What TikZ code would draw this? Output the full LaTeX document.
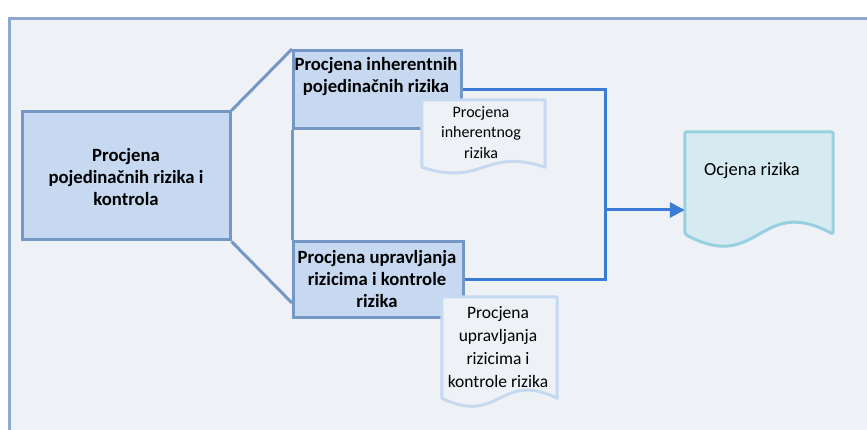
\documentclass[tikz,border=0pt]{standalone}
\usepackage{fontspec}
\setmainfont{Carlito}
\usetikzlibrary{arrows.meta, positioning, calc}
\usepackage{xcolor}

\definecolor{paneback}{HTML}{EEF1F6}
\definecolor{paneedge}{HTML}{8DA9CF}
\definecolor{boxfill}{HTML}{C6D9F1}
\definecolor{boxedge}{HTML}{7497C5}
\definecolor{docedge}{HTML}{C5D9F1}
\definecolor{outfill}{HTML}{D5EBF1}
\definecolor{outedge}{HTML}{97D0DF}
\definecolor{flowblue}{HTML}{3B7BD8}

% wavy document outline round an (empty) node
\newcommand{\docoutline}[3][]{%
  \path[#1] let \p1=(#2.south west), \p2=(#2.north east) in
    (\x1,\y1) -- (\x1,\y2) -- (\x2,\y2) -- (\x2,\y1)
    .. controls ({0.5*\x1+0.5*\x2},{\y1+#3}) and ({0.5*\x1+0.5*\x2},{\y1-#3}) .. (\x1,\y1) -- cycle;}

\begin{document}
\begin{tikzpicture}[x=1pt, y=-1pt,
    box/.style={draw=boxedge, fill=boxfill, line width=3pt, inner sep=0pt},
    boxtext/.style={inner sep=0pt, align=center, font=\fontsize{18.7}{22.3}\selectfont\bfseries},
    docnode/.style={inner sep=0pt},
    doctext/.style={inner sep=0pt, align=center, font=\fontsize{16}{20.5}\selectfont},
    docline/.style={draw=docedge, fill=paneback, line width=3pt, line join=round},
    link/.style={draw=boxedge, line width=3pt},
    flow/.style={draw=flowblue, line width=3pt}]
    \useasboundingbox (0,0) rectangle (867,430);
    \clip (0,0) rectangle (867,430);

    % Pane
    \draw[draw=paneedge, fill=paneback, line width=3pt] (9,19) rectangle (900,460);

    % Boxes
    \node[box, minimum width=208, minimum height=128] (single) at (126,176) {};
    \node[box, minimum width=168, minimum height=78, anchor=north west] (inh) at (292,49) {};
    \node[box, minimum width=170, minimum height=76, anchor=north west] (upr) at (292,240) {};

    % Links
    \draw[link] (single.north east) -- (inh.north west);
    \draw[link] (single.south east) -- ([yshift=16pt]upr.south west);
    \draw[link] (inh.south west) -- (upr.north west);

    \node[boxtext] (singletxt) at (126,177) {Procjena\\pojedinačnih rizika i\\kontrola};
    \node[boxtext] (inhtxt) at (376,76.5) {Procjena inherentnih\\pojedinačnih rizika};
    \node[boxtext] (uprtxt) at (377,279) {Procjena upravljanja\\rizicima i kontrole\\rizika};

    % Flow to the result
    \coordinate (bus) at (605,210);
    \draw[flow] (inh.east) -- (inh.east -| bus) -- (upr.east -| bus) -- (upr.east);

    % Documents
    \node[docnode, minimum width=123, minimum height=67] (inhdoc) at (483.5,133.5) {};
    \docoutline[docline]{inhdoc}{20pt}
    \node[doctext] (inhdoctxt) at (481,132.5) {Procjena\\inherentnog\\rizika};

    \node[docnode, minimum width=115, minimum height=101] (uprdoc) at (499.5,347.5) {};
    \docoutline[docline]{uprdoc}{28pt}
    \node[doctext, font=\fontsize{17.5}{22.7}\selectfont] (uprdoctxt) at (498,347) {Procjena\\upravljanja\\rizicima i\\kontrole rizika};

    \node[docnode, minimum width=148, minimum height=102] (ocjena) at (759,183) {};
    \docoutline[docline, draw=outedge, fill=outfill, rounded corners=2pt]{ocjena}{40pt}
    \node[doctext, font=\fontsize{18.5}{22}\selectfont] (ocjenatxt) at (752,171) {Ocjena rizika};

    \draw[flow, -{Triangle[length=15pt, width=15pt]}] (bus) -- (bus -| ocjena.west);
\end{tikzpicture}
\end{document}
